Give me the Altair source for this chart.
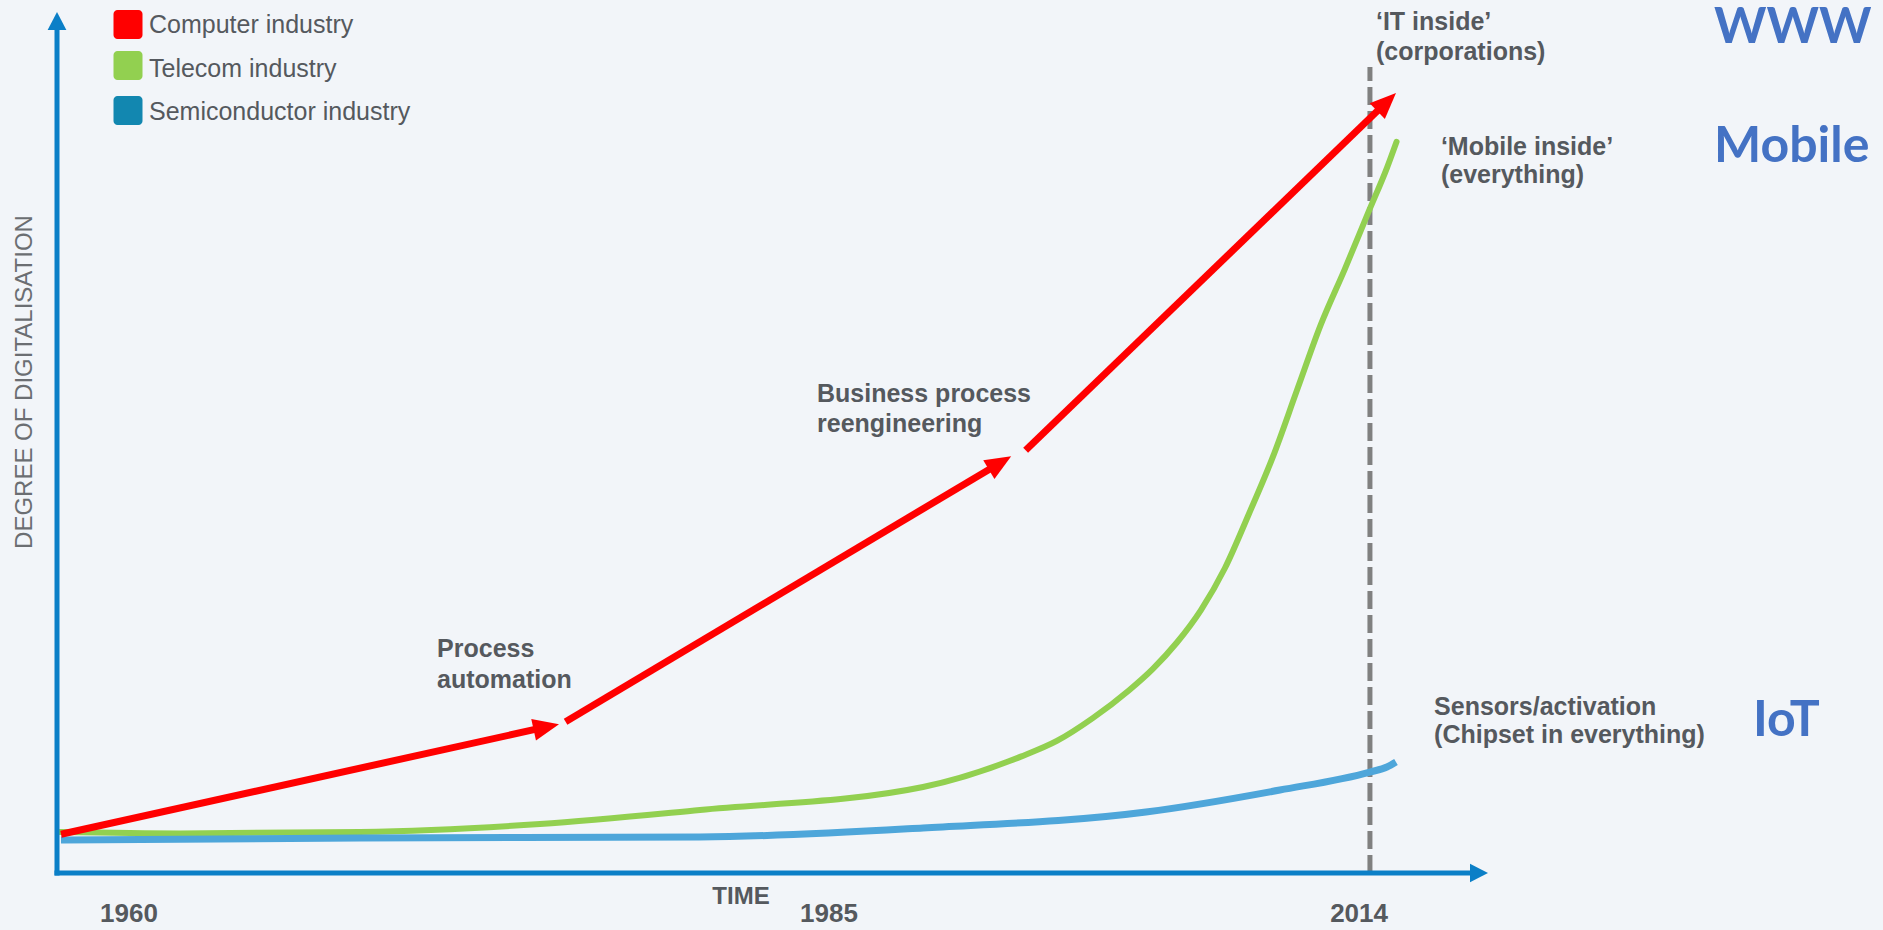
import math
import altair as alt
import pandas as pd

# ---------------- data (x: time index, 0 = origin, 100 = axis arrow tip; y: degree of digitalisation, 0..100)
series_names = ["Computer industry", "Telecom industry", "Semiconductor industry"]

telecom_x = [0.21, 8.60, 21.17, 33.75, 44.93, 60.52, 67.35, 69.87, 72.38, 74.90, 76.58, 78.26, 79.94, 81.62, 83.29, 84.98, 86.65, 88.33, 90.01, 91.68, 92.94, 93.61]
telecom_y = [4.76, 4.60, 4.76, 5.69, 7.32, 9.99, 13.52, 15.34, 17.99, 21.20, 23.71, 26.77, 30.54, 35.42, 41.70, 48.39, 56.06, 63.74, 70.20, 76.90, 81.90, 84.93]

semi_x = [0.28, 21.17, 44.93, 60.52, 76.10, 85.46, 91.75, 92.94, 93.57]
semi_y = [3.83, 4.07, 4.18, 5.23, 7.08, 9.64, 11.73, 12.31, 12.89]

# computer industry: three arrow segments
computer_x_start = [0.28, 35.54, 67.69]
computer_y_start = [4.50, 17.57, 49.09]
computer_x_end = [35.08, 66.68, 93.57]
computer_y_end = [17.29, 48.40, 90.59]

# year 2014 marker
marker_x = [91.75]
marker_top = [93.6]

tick_labels = ["1960", "1985", "2014"]
tick_pos = [5.03, 53.95, 90.99]

annotation_text = ["Process", "automation", "Business process", "reengineering",
                   "\u2018IT inside\u2019", "(corporations)", "\u2018Mobile inside\u2019", "(everything)",
                   "Sensors/activation", "(Chipset in everything)"]
annotation_x = [26.56, 26.56, 53.11, 53.11, 92.17, 92.17, 96.71, 96.71, 96.23, 96.23]
annotation_y = [25.09, 21.49, 54.70, 51.22, 97.91, 94.43, 83.39, 80.14, 18.35, 15.10]

big_text = ["WWW", "Mobile", "IoT"]
big_x = [115.79, 115.79, 118.52]
big_y = [96.40, 82.58, 15.91]

# ---------------- layout (pixels)
PX_W, PX_H = 1883, 930
X0_PX, X100_PX = 57, 1488
Y0_PX, Y100_PX = 873, 12
XS = (X100_PX - X0_PX) / 100.0
YS = (Y0_PX - Y100_PX) / 100.0
x_dom = [-X0_PX / XS, (PX_W - X0_PX) / XS]
y_dom = [(Y0_PX - PX_H) / YS, Y0_PX / YS]

def ux(px):
    return (px - X0_PX) / XS

def uy(py):
    return (Y0_PX - py) / YS

AXIS_BLUE = "#0B7FC7"
RED = "#FF0000"
GREEN = "#92D050"
LBLUE = "#4EA6DA"
SEMI_SQ = "#1287B0"
GREY_TXT = "#55595E"
BG = "#F2F5F9"

XE = alt.X("x:Q", scale=alt.Scale(domain=x_dom, nice=False, zero=False), axis=None)
YE = alt.Y("y:Q", scale=alt.Scale(domain=y_dom, nice=False, zero=False), axis=None)


def direction(x1, y1, x2, y2):
    dxp = (x2 - x1) * XS
    dyp = -(y2 - y1) * YS  # screen coords (down positive)
    ln = math.hypot(dxp, dyp)
    ang = math.degrees(math.atan2(dxp, -dyp)) % 360
    return dxp / ln, dyp / ln, ang


def shorten(x1, y1, x2, y2, L):
    ux_, uy_, _ = direction(x1, y1, x2, y2)
    return x2 - ux_ * L / XS, y2 + uy_ * L / YS


ARROW_PATH = "M0,0L-0.42,1L0.42,1Z"
AXIS_ARROW_PATH = "M0,0L-0.52,1L0.52,1Z"

# ---- axes
axis_ends = [(0, 0, 0, 100), (0, 0, 100, 0)]
ax_rows, axh_rows = [], []
for (x1, y1, x2, y2) in axis_ends:
    sx, sy = shorten(x1, y1, x2, y2, 10)
    ax_rows.append(dict(x=x1, y=y1, x2=sx, y2=sy))
    axh_rows.append(dict(x=x2, y=y2, ang=direction(x1, y1, x2, y2)[2]))

axes_lines = alt.Chart(pd.DataFrame(ax_rows)).mark_rule(
    color=AXIS_BLUE, strokeWidth=5, strokeCap="square"
).encode(x=XE, y=YE, x2="x2:Q", y2="y2:Q")

axes_heads = alt.Chart(pd.DataFrame(axh_rows)).mark_point(
    shape=AXIS_ARROW_PATH, filled=True, color=AXIS_BLUE, opacity=1, size=(2 * 18) ** 2, strokeWidth=0
).encode(x=XE, y=YE, angle=alt.Angle("ang:Q", scale=None))

# ---- dashed 2014 marker
marker = alt.Chart(pd.DataFrame({"x": marker_x, "y": [0] * len(marker_x), "y2": marker_top})).mark_rule(
    color="#808080", strokeWidth=5, strokeDash=[18, 6]
).encode(x=XE, y=YE, y2="y2:Q")

# ---- curves
telecom = alt.Chart(pd.DataFrame({"x": telecom_x, "y": telecom_y})).mark_line(
    color=GREEN, strokeWidth=6, interpolate="monotone", strokeCap="round"
).encode(x=XE, y=YE, order="x:Q")

semi = alt.Chart(pd.DataFrame({"x": semi_x, "y": semi_y})).mark_line(
    color=LBLUE, strokeWidth=7, interpolate="monotone"
).encode(x=XE, y=YE, order="x:Q")

# ---- computer arrows
sh_rows, hd_rows = [], []
for x1, y1, x2, y2 in zip(computer_x_start, computer_y_start, computer_x_end, computer_y_end):
    sx, sy = shorten(x1, y1, x2, y2, 13)
    sh_rows.append(dict(x=x1, y=y1, x2=sx, y2=sy))
    hd_rows.append(dict(x=x2, y=y2, ang=direction(x1, y1, x2, y2)[2]))

red_shafts = alt.Chart(pd.DataFrame(sh_rows)).mark_rule(
    color=RED, strokeWidth=7
).encode(x=XE, y=YE, x2="x2:Q", y2="y2:Q")

red_heads = alt.Chart(pd.DataFrame(hd_rows)).mark_point(
    shape=ARROW_PATH, filled=True, color=RED, opacity=1, size=(2 * 26) ** 2, strokeWidth=0
).encode(x=XE, y=YE, angle=alt.Angle("ang:Q", scale=None))

# ---- legend
sq_cy_px = [24.5, 65.5, 110.5]
txt_base_px = [33, 77, 120]
SQ = 29
leg_rows = []
for name, col, cy in zip(series_names, [RED, GREEN, SEMI_SQ], sq_cy_px):
    leg_rows.append(dict(x=ux(128 - SQ / 2), x2=ux(128 + SQ / 2), y=uy(cy + SQ / 2), y2=uy(cy - SQ / 2), c=col))
legend_sq = alt.Chart(pd.DataFrame(leg_rows)).mark_rect(cornerRadius=4).encode(
    x=XE, y=YE, x2="x2:Q", y2="y2:Q", color=alt.Color("c:N", scale=None)
)
legend_txt = alt.Chart(pd.DataFrame({"x": [ux(149)] * 3, "y": [uy(b) for b in txt_base_px], "t": series_names})).mark_text(
    align="left", baseline="alphabetic", font="Liberation Sans", fontSize=25, color=GREY_TXT
).encode(x=XE, y=YE, text="t:N")

# ---- texts
annot = alt.Chart(pd.DataFrame({"x": annotation_x, "y": annotation_y, "t": annotation_text})).mark_text(
    align="left", baseline="alphabetic", font="Liberation Sans", fontSize=25, fontWeight="bold", color=GREY_TXT
).encode(x=XE, y=YE, text="t:N")

big = alt.Chart(pd.DataFrame({"x": big_x, "y": big_y, "t": big_text})).mark_text(
    align="left", baseline="alphabetic", font="Lato", fontSize=50, fontWeight="bold", color="#4472C4"
).encode(x=XE, y=YE, text="t:N")

ticks = alt.Chart(pd.DataFrame({"x": tick_pos, "y": [uy(922)] * len(tick_pos), "t": tick_labels})).mark_text(
    align="center", baseline="alphabetic", font="Liberation Sans", fontSize=26, fontWeight="bold", color=GREY_TXT
).encode(x=XE, y=YE, text="t:N")

time_lbl = alt.Chart(pd.DataFrame({"x": [ux(741)], "y": [uy(904)], "t": ["TIME"]})).mark_text(
    align="center", baseline="alphabetic", font="Liberation Sans", fontSize=24, fontWeight="bold", color=GREY_TXT
).encode(x=XE, y=YE, text="t:N")

ytitle = alt.Chart(pd.DataFrame({"x": [ux(25)], "y": [uy(382)], "t": ["DEGREE OF DIGITALISATION"]})).mark_text(
    align="center", baseline="middle", angle=270, font="Liberation Sans", fontSize=24, color="#6B6E72"
).encode(x=XE, y=YE, text="t:N")

chart = alt.layer(
    marker, telecom, semi, red_shafts, red_heads, axes_lines, axes_heads,
    legend_sq, legend_txt, annot, big, ticks, time_lbl, ytitle
).properties(
    width=PX_W, height=PX_H, padding=0, background=BG,
    autosize=alt.AutoSizeParams(type="none")
).configure_view(strokeWidth=0)

chart.save("out.html", embed_options={"renderer": "svg", "actions": False})
